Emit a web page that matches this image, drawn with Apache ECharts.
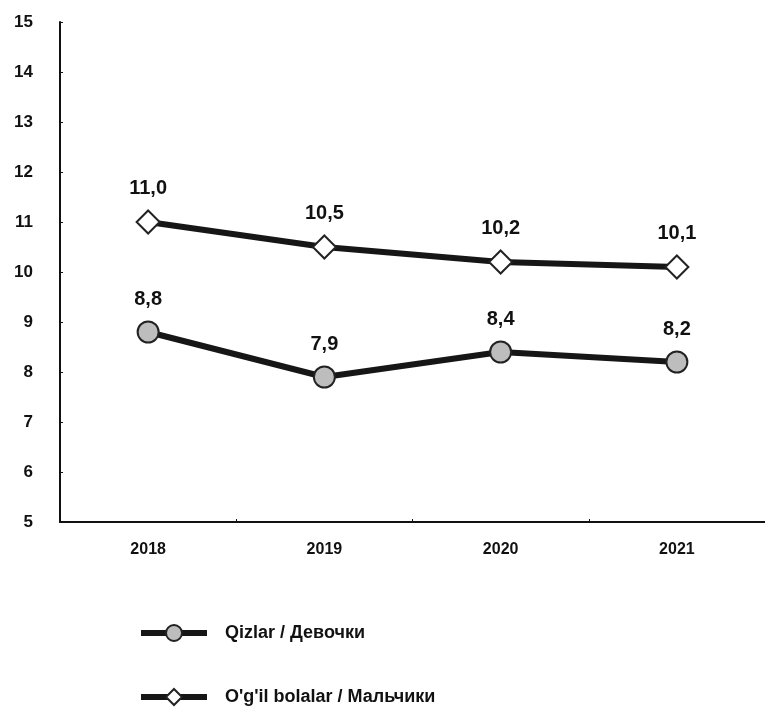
<!DOCTYPE html>
<html><head><meta charset="utf-8">
<script src="https://cdn.jsdelivr.net/npm/echarts@6/dist/echarts.min.js"></script>
<style>html,body{margin:0;padding:0;background:#fff}#c{width:765px;height:712px}</style>
</head><body><div id="c"></div>
<script>
const years = ['2018', '2019', '2020', '2021'];
const girls = [8.8, 7.9, 8.4, 8.2];
const boys = [11.0, 10.5, 10.2, 10.1];
const girlsName = 'Qizlar / Девочки';
const boysName = "O'g'il bolalar / Мальчики";

const chart = echarts.init(document.getElementById('c'));
const fmt = p => p.value.toFixed(1).replace('.', ',');
const labelStyle = {show: true, position: 'top', distance: 11, formatter: fmt,
  fontFamily: 'Liberation Sans, Arial', fontWeight: 'bold', fontSize: 20, color: '#111'};
chart.setOption({
  animation: false,
  backgroundColor: '#fff',
  grid: {left: 60, right: 0, top: 22, bottom: 190},
  legend: {
    orient: 'vertical', left: 133, top: 619, itemGap: 46, itemWidth: 66, itemHeight: 20,
    lineStyle: {width: 6, color: '#161616'},
    textStyle: {fontFamily: 'Liberation Sans, Arial', fontWeight: 'bold', fontSize: 18, color: '#111', padding: [0, 0, 0, 13]},
    data: [girlsName, boysName]
  },
  xAxis: {
    type: 'category', data: years, boundaryGap: true,
    axisLine: {lineStyle: {color: '#111', width: 2}},
    axisTick: {show: true, inside: true, length: 3, lineStyle: {color: '#111'}},
    axisLabel: {fontFamily: 'Liberation Sans, Arial', fontWeight: 'bold', fontSize: 16, color: '#111', margin: 20}
  },
  yAxis: {
    type: 'value', min: 5, max: 15, interval: 1,
    splitLine: {show: false},
    axisLine: {show: true, lineStyle: {color: '#111', width: 2}},
    axisTick: {show: true, inside: true, length: 3, lineStyle: {color: '#111'}},
    axisLabel: {fontFamily: 'Liberation Sans, Arial', fontWeight: 'bold', fontSize: 17, color: '#111', margin: 27}
  },
  series: [
    {name: girlsName, type: 'line', data: girls, symbol: 'circle', symbolSize: 21,
     lineStyle: {color: '#161616', width: 6},
     itemStyle: {color: '#bdbdbd', borderColor: '#222', borderWidth: 2},
     label: labelStyle},
    {name: boysName, type: 'line', data: boys, symbol: 'diamond', symbolSize: 23,
     lineStyle: {color: '#161616', width: 6},
     itemStyle: {color: '#fff', borderColor: '#222', borderWidth: 2},
     label: labelStyle}
  ]
});
</script></body></html>
